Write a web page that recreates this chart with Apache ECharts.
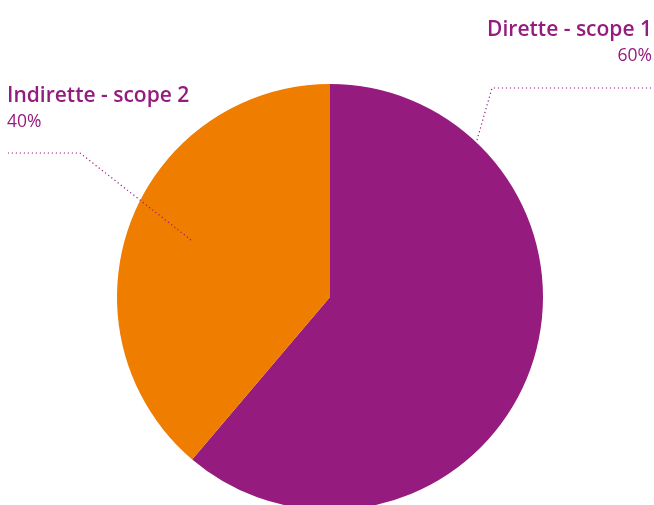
<!DOCTYPE html>
<html><head><meta charset="utf-8">
<script src="https://cdn.jsdelivr.net/npm/echarts@6/dist/echarts.min.js"></script>
<style>html,body{margin:0;padding:0;background:#fff}#c{width:654px;height:505px}</style>
</head><body><div id="c"></div>
<script>
const categories = ['Dirette - scope 1', 'Indirette - scope 2'];
const values = [61.2, 38.8];
const percentLabels = ['60%', '40%'];
const colors = ['#951B7E', '#EF7D00'];
const labelPositions = [
  {x: 652, y: 16, align: 'right', line: [[477,140],[492,88],[654,88]]},
  {x: 7, y: 82, align: 'left', line: [[191,240],[80,153],[8,153]]}
];
const chart = echarts.init(document.getElementById('c'));
const purple = '#951B7E';
const base = {
  type: 'pie',
  center: [330, 297],
  radius: 213,
  startAngle: 90,
  clockwise: true,
  silent: true
};
chart.setOption({
  animation: false,
  series: [
    Object.assign({}, base, {
      z: 2,
      data: categories.map((c, i) => ({name: c, value: values[i], itemStyle: {color: colors[i]}})),
      label: {show: false},
      labelLine: {show: false}
    }),
    Object.assign({}, base, {
      z: 3,
      data: categories.map((c, i) => ({name: c, value: values[i], itemStyle: {color: 'rgba(0,0,0,0)'},
        label: {align: labelPositions[i].align, rich: {
          t: {fontFamily: 'Open Sans', fontWeight: 600, fontSize: 21, color: purple, align: labelPositions[i].align, lineHeight: 28},
          p: {fontFamily: 'Open Sans', fontWeight: 400, fontSize: 17.5, color: purple, align: labelPositions[i].align, lineHeight: 25}
        }}})),
      label: {
        show: true,
        overflow: 'none',
        width: 300,
        formatter: p => '{t|' + p.name + '}\n{p|' + percentLabels[p.dataIndex] + '}'
      },
      labelLine: {show: true, lineStyle: {type: [1.2, 2.8], color: purple, width: 1.2}},
      labelLayout: function (params) {
        const lp = labelPositions[params.dataIndex];
        return {x: lp.x, y: lp.y, align: lp.align, verticalAlign: 'top', labelLinePoints: lp.line};
      }
    })
  ]
});
</script></body></html>
